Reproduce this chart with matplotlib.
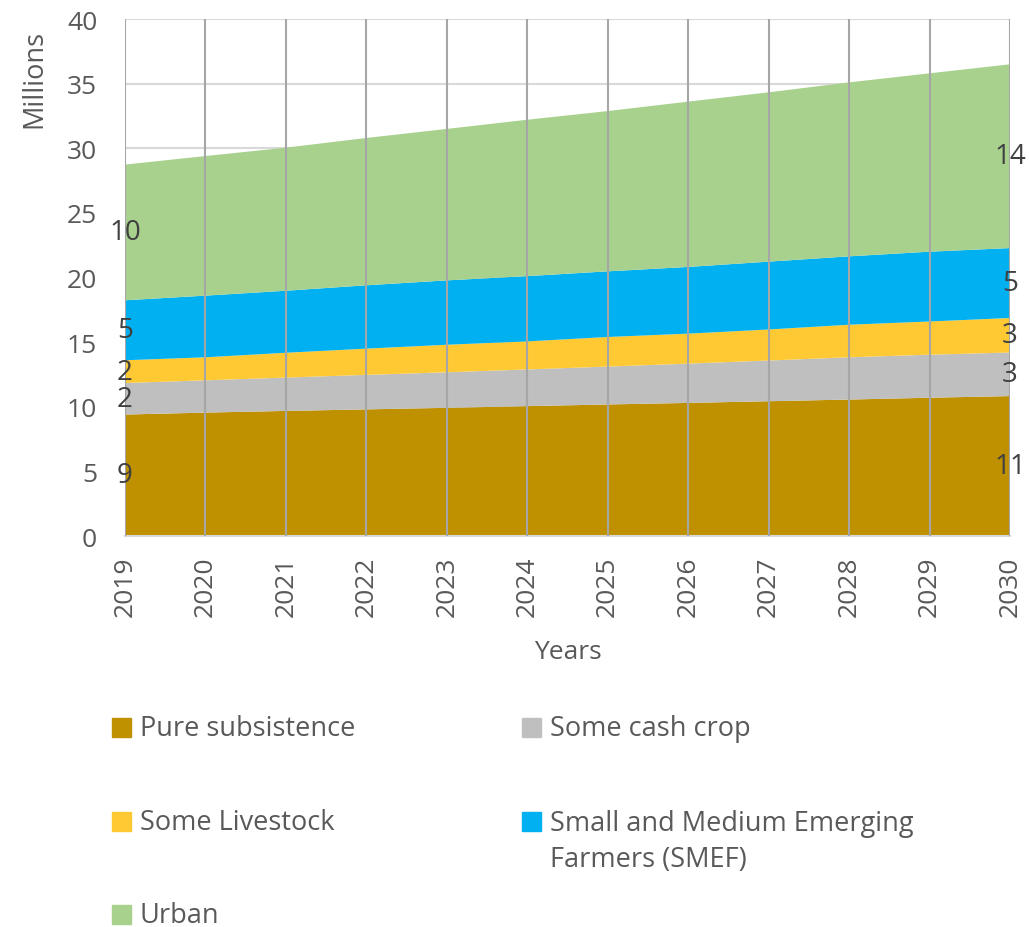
import matplotlib
matplotlib.use('Agg')
import matplotlib.pyplot as plt
from matplotlib.patches import Rectangle

plt.rcParams['font.family'] = ['Open Sans', 'DejaVu Sans']

years = [2019, 2020, 2021, 2022, 2023, 2024, 2025, 2026, 2027, 2028, 2029, 2030]
pure_subsistence = [9.40, 9.55, 9.68, 9.80, 9.92, 10.05, 10.18, 10.30, 10.43, 10.56, 10.70, 10.83]
some_cash_crop = [2.44, 2.50, 2.58, 2.67, 2.75, 2.84, 2.93, 3.04, 3.15, 3.27, 3.33, 3.37]
some_livestock = [1.76, 1.78, 1.92, 2.03, 2.13, 2.17, 2.29, 2.32, 2.40, 2.52, 2.57, 2.67]
smef = [4.64, 4.77, 4.80, 4.90, 4.98, 5.05, 5.08, 5.16, 5.25, 5.29, 5.40, 5.41]
urban = [10.50, 10.80, 11.07, 11.40, 11.72, 12.10, 12.40, 12.79, 13.10, 13.46, 13.80, 14.22]

series_names = ['Pure subsistence', 'Some cash crop', 'Some Livestock',
                'Small and Medium Emerging\nFarmers (SMEF)', 'Urban']
series_values = [pure_subsistence, some_cash_crop, some_livestock, smef, urban]
colors = ['#BF9000', '#BFBFBF', '#FFC933', '#00B0F0', '#A9D18E']

text_color = '#404040'
tick_color = '#595959'

fig = plt.figure(figsize=(10.29, 9.28), dpi=100)
ax = fig.add_axes([0.1215, 0.4213, 0.86, 0.5571])

ax.stackplot(years, *series_values, colors=colors, zorder=2)

# drop lines at every year
for yr in years:
    ax.axvline(yr, color='#A6A6A6', lw=1.5, zorder=3)

# data labels at first and last year
bottom_first = 0
bottom_last = 0
for vals in series_values:
    ax.text(years[0], bottom_first + vals[0] / 2, f'{vals[0]:.0f}', ha='center', va='center',
            fontsize=20, color=text_color, zorder=4)
    ax.text(years[-1], bottom_last + vals[-1] / 2, f'{vals[-1]:.0f}', ha='center', va='center',
            fontsize=20, color=text_color, zorder=4)
    bottom_first += vals[0]
    bottom_last += vals[-1]

ax.set_xlim(years[0], years[-1])
ax.set_ylim(0, 40)
ax.set_yticks(range(0, 41, 5))
ax.set_xticks(years)
ax.set_xticklabels([str(y) for y in years], rotation=90)
ax.grid(axis='y', color='#D9D9D9', lw=1.5, zorder=1)
ax.set_axisbelow(True)

for side in ['top', 'right', 'left']:
    ax.spines[side].set_visible(False)
ax.spines['bottom'].set_color('#D9D9D9')
ax.spines['bottom'].set_linewidth(1.5)
ax.tick_params(axis='both', length=0, labelsize=19, colors=tick_color)
ax.tick_params(axis='y', pad=20)
ax.tick_params(axis='x', pad=14)

ax.set_ylabel('Millions', fontsize=19.5, color=tick_color)
ax.yaxis.set_label_coords(-0.087, 0.886)
ax.set_xlabel('Years', fontsize=19, color=tick_color)
ax.xaxis.set_label_coords(0.5, -0.2)

# legend, laid out row by row in two columns
legend_pos = [(112, 729), (522, 729), (112, 823), (522, 823), (112, 916)]
W, H = 1029, 928
for (px, py), name, col in zip(legend_pos, series_names, colors):
    n_lines = name.count('\n') + 1
    ty = py + (n_lines - 1) * 19
    fig.patches.append(Rectangle((px / W, 1 - (py + 9) / H), 19 / W, 19 / H,
                                 transform=fig.transFigure, color=col))
    fig.text((px + 28) / W, 1 - ty / H, name, ha='left', va='center',
             fontsize=19.5, color=tick_color, linespacing=1.4)

fig.savefig('out.png', dpi=100)
